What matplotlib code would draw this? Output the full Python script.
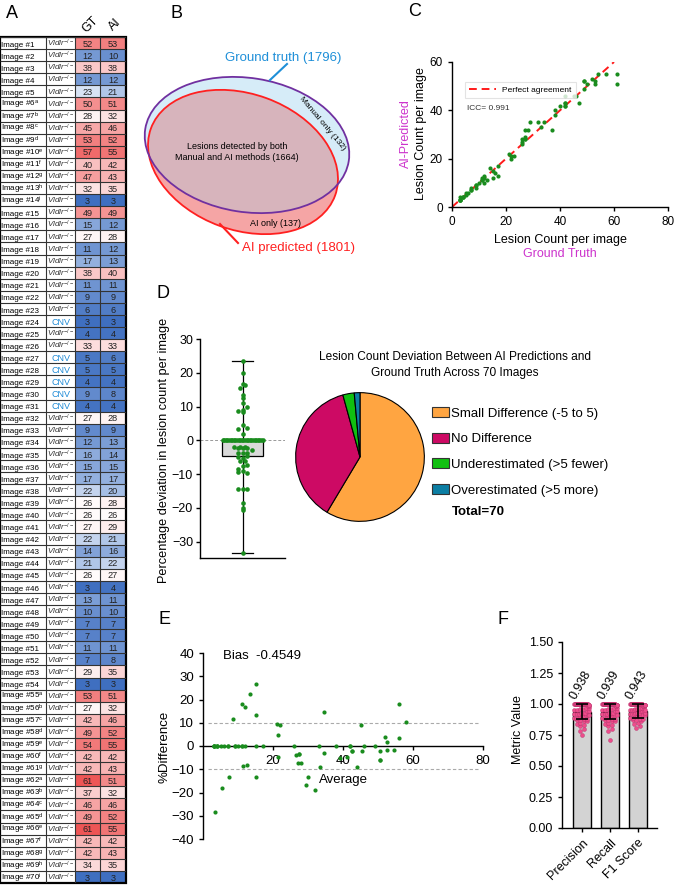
import matplotlib
matplotlib.use('Agg')
import matplotlib.pyplot as plt
from matplotlib.patches import Ellipse, Rectangle, Patch
from matplotlib.colors import LinearSegmentedColormap, TwoSlopeNorm
import numpy as np

plt.rcParams['font.family'] = ['Liberation Sans', 'DejaVu Sans']
plt.rcParams['mathtext.fontset'] = 'custom'
plt.rcParams['mathtext.rm'] = 'Liberation Sans'
plt.rcParams['mathtext.it'] = 'Liberation Sans:italic'
plt.rcParams['axes.linewidth'] = 1.0
plt.rcParams['xtick.major.width'] = 1.0
plt.rcParams['ytick.major.width'] = 1.0
plt.rcParams['xtick.major.size'] = 3
plt.rcParams['ytick.major.size'] = 3

W, H = 683, 890

# ---------------- data ----------------
image_ids = list(range(1, 71))
superscripts = {6: 'a', 7: 'b', 8: 'c', 9: 'd', 10: 'e', 11: 'f', 12: 'g', 13: 'h', 14: 'i',
                55: 'a', 56: 'b', 57: 'c', 58: 'd', 59: 'e', 60: 'f', 61: 'g',
                62: 'a', 63: 'b', 64: 'c', 65: 'd', 66: 'e', 67: 'f', 68: 'g', 69: 'h', 70: 'i'}
cnv_images = [24, 27, 28, 29, 30, 31]

gt = [52, 12, 38, 12, 23, 50, 28, 45, 53, 57, 40, 47, 32, 3, 49, 15, 27, 11, 17, 38,
      11, 9, 6, 3, 4, 33, 5, 5, 4, 9, 4, 27, 9, 12, 16, 15, 17, 22, 26, 26,
      27, 22, 14, 21, 26, 3, 13, 10, 7, 7, 11, 7, 29, 3, 53, 27, 42, 49, 54, 42,
      42, 61, 37, 46, 49, 61, 42, 42, 34, 3]
ai = [53, 10, 38, 12, 21, 51, 32, 46, 52, 55, 42, 43, 35, 3, 49, 12, 28, 12, 13, 40,
      11, 9, 6, 3, 4, 33, 6, 5, 4, 8, 4, 28, 9, 13, 14, 15, 17, 20, 28, 26,
      29, 21, 16, 22, 27, 4, 11, 10, 7, 7, 11, 8, 35, 3, 51, 32, 46, 52, 55, 42,
      43, 51, 32, 46, 52, 55, 42, 43, 35, 3]

venn_gt_total = 1796
venn_ai_total = 1801
venn_both = 1664
venn_manual_only = 132
venn_ai_only = 137

icc = 0.991
bias_text = 'Bias  -0.4549'

pie_labels = ['Small Difference (-5 to 5)', 'No Difference',
              'Underestimated (>5 fewer)', 'Overestimated (>5 more)']
pie_colors = ['#ffa541', '#cd0a64', '#10c010', '#0b7ea3']

metric_names = ['Precision', 'Recall', 'F1 Score']
metric_means = [0.938, 0.939, 0.943]
metric_sd = [0.062, 0.062, 0.057]
precision = [1.0, 1.0, 1.0, 1.0, 1.0, 1.0, 1.0, 1.0, 1.0, 1.0, 1.0, 1.0, 1.0, 1.0, 1.0,
             1.0, 1.0, 1.0, 1.0, 1.0, 1.0, 1.0, 1.0, 1.0, 1.0, 1.0, 1.0, 1.0, 1.0, 1.0,
             0.75, 0.78, 0.80, 0.82, 0.83, 0.84, 0.85, 0.86, 0.86, 0.87,
             0.87, 0.88, 0.88, 0.89, 0.89, 0.89, 0.90, 0.90, 0.90, 0.91,
             0.91, 0.91, 0.92, 0.92, 0.92, 0.93, 0.93, 0.93, 0.94, 0.94,
             0.95, 0.95, 0.96, 0.96, 0.97, 0.97, 0.98, 0.98, 0.99, 0.99]
recall = [1.0, 1.0, 1.0, 1.0, 1.0, 1.0, 1.0, 1.0, 1.0, 1.0, 1.0, 1.0, 1.0, 1.0, 1.0,
          1.0, 1.0, 1.0, 1.0, 1.0, 1.0, 1.0, 1.0, 1.0, 1.0, 1.0, 1.0, 1.0, 1.0, 1.0,
          0.71, 0.78, 0.80, 0.82, 0.83, 0.84, 0.85, 0.86, 0.86, 0.87,
          0.87, 0.88, 0.88, 0.89, 0.89, 0.90, 0.90, 0.90, 0.91, 0.91,
          0.91, 0.92, 0.92, 0.92, 0.93, 0.93, 0.93, 0.94, 0.94, 0.95,
          0.95, 0.96, 0.96, 0.97, 0.97, 0.98, 0.98, 0.99, 0.99, 0.99]
f1 = [1.0, 1.0, 1.0, 1.0, 1.0, 1.0, 1.0, 1.0, 1.0, 1.0, 1.0, 1.0, 1.0,
      1.0, 1.0, 1.0, 1.0, 1.0, 1.0, 1.0, 1.0, 1.0, 1.0, 1.0, 1.0, 1.0,
      0.81, 0.82, 0.84, 0.85, 0.86, 0.87, 0.87, 0.88, 0.88, 0.89, 0.89,
      0.90, 0.90, 0.90, 0.91, 0.91, 0.91, 0.92, 0.92, 0.92, 0.93, 0.93,
      0.93, 0.94, 0.94, 0.94, 0.95, 0.95, 0.95, 0.96, 0.96, 0.96, 0.97,
      0.97, 0.97, 0.98, 0.98, 0.98, 0.99, 0.99, 0.99, 0.99, 0.93, 0.95]

gt_a = np.array(gt, float)
ai_a = np.array(ai, float)
green = '#1a8c1e'


def fax(l, t, r, b):
    # axes from pixel box (left, top, right, bottom)
    return fig.add_axes([l / W, 1 - b / H, (r - l) / W, (b - t) / H])


def ptext(x, y, s, **kw):
    fig.text(x / W, 1 - y / H, s, **kw)


def swarm(vals, ypx, dot, maxw):
    vals = np.asarray(vals, float)
    offs = np.zeros(len(vals))
    bins = np.round(vals * ypx / dot).astype(int)
    for b in np.unique(bins):
        idx = np.where(bins == b)[0]
        n = len(idx)
        if n > 1:
            step = min(dot, maxw / (n - 1))
            offs[idx] = (np.arange(n) - (n - 1) / 2) * step
    return offs


fig = plt.figure(figsize=(W / 100, H / 100), dpi=100)

# ---------------- overlay for panel B ----------------
ov = fig.add_axes([0, 0, 1, 1])
ov.set_xlim(0, W)
ov.set_ylim(H, 0)
ov.axis('off')

gt_c, gt_w, gt_h, gt_ang = (247, 145), 206, 134, 9
ai_c, ai_w, ai_h, ai_ang = (243, 162), 196, 136, 20
gt_fill = Ellipse(gt_c, gt_w, gt_h, angle=gt_ang, fc='#d6ecf8', ec='none')
ov.add_patch(gt_fill)
ov.add_patch(Ellipse(ai_c, ai_w, ai_h, angle=ai_ang, fc='#f5a5a5', ec='none'))
both = Ellipse(ai_c, ai_w, ai_h, angle=ai_ang, fc='#d7b4bc', ec='none')
ov.add_patch(both)
both.set_clip_path(gt_fill)
ov.add_patch(Ellipse(ai_c, ai_w, ai_h, angle=ai_ang, fc='none', ec='#ff2020', lw=1.3))
ov.add_patch(Ellipse(gt_c, gt_w, gt_h, angle=gt_ang, fc='none', ec='#7030a0', lw=1.3))
ov.plot([287, 270], [64, 80], color='#1e8fd8', lw=1.5)
ov.plot([220, 238], [224, 243], color='#ff2020', lw=1.5)
ov.text(283, 58, 'Ground truth (%d)' % venn_gt_total, color='#1e8fd8', fontsize=9.5,
        ha='center', va='center')
ov.text(298, 248, 'AI predicted (%d)' % venn_ai_total, color='#ff2020', fontsize=9.5,
        ha='center', va='center')
ov.text(322, 124, 'Manual only (%d)' % venn_manual_only, fontsize=6, rotation=-50,
        ha='center', va='center')
ov.text(276, 224, 'AI only (%d)' % venn_ai_only, fontsize=6.5, ha='center', va='center')
ov.text(237, 152, 'Lesions detected by both\nManual and AI methods (%d)' % venn_both,
        fontsize=6.5, ha='center', va='center', linespacing=1.3)

# ---------------- panel A: table ----------------
cmap = LinearSegmentedColormap.from_list('gtai', [(0, '#3f6fc0'), (0.4, '#a9c1e6'),
                                                  (0.5, '#ffffff'), (0.75, '#f8b4b4'),
                                                  (1, '#ee5555')])
norm = TwoSlopeNorm(vmin=3, vcenter=25, vmax=61)
tab = fax(0, 37, 126, 883)
tab.set_xlim(0, 126)
tab.set_ylim(len(image_ids), 0)
tab.axis('off')
cols = [0, 46, 75, 100, 126]
for i, img in enumerate(image_ids):
    lab = 'Image #%d' % img
    if img in superscripts:
        lab += r'$^{\mathrm{%s}}$' % superscripts[img]
    tab.text(1.2, i + 0.8, lab, fontsize=5.8, ha='left', va='baseline')
    if img in cnv_images:
        tab.text(60.5, i + 0.8, 'CNV', fontsize=6.5, color='#1f8bd6', ha='center',
                 va='baseline')
    else:
        tab.text(60.5, i + 0.8, r'$\mathit{Vldlr}^{-/-}$', fontsize=5.8, color='#333333',
                 ha='center', va='baseline')
    for c, vals in ((2, gt), (3, ai)):
        tab.add_patch(Rectangle((cols[c], i), cols[c + 1] - cols[c], 1,
                                fc=cmap(norm(vals[i])), ec='none'))
        tab.text((cols[c] + cols[c + 1]) / 2, i + 0.8, str(vals[i]), fontsize=6.6,
                 ha='center', va='baseline', color='#222222')
tab.hlines(np.arange(len(image_ids) + 1), 0, 126, color='#333333', lw=0.8)
tab.vlines(cols[1:-1], 0, len(image_ids), color='#333333', lw=0.8)
tab.add_patch(Rectangle((0, 0), 126, len(image_ids), fc='none', ec='black', lw=1.6,
                        clip_on=False))
ptext(90, 25, 'GT', rotation=45, fontsize=9, ha='center', va='center')
ptext(115, 25, 'AI', rotation=45, fontsize=9, ha='center', va='center')

# ---------------- panel C: scatter ----------------
axc = fax(452, 62, 668, 207)
axc.plot([0, 60], [0, 60], color='#ff1a1a', ls=(0, (4, 2.5)), lw=1.4,
         label='Perfect agreement', zorder=1)
axc.scatter(gt, ai, s=9, color=green, zorder=2, linewidths=0)
axc.set_xlim(0, 80)
axc.set_ylim(0, 60)
axc.set_xticks([0, 20, 40, 60, 80])
axc.set_yticks([0, 20, 40, 60])
axc.tick_params(labelsize=8.5)
for s in ['top', 'right']:
    axc.spines[s].set_visible(False)
leg = axc.legend(loc='upper left', bbox_to_anchor=(0.04, 0.89), fontsize=6,
                 handlelength=3.2, borderpad=0.5, fancybox=False)
leg.get_frame().set_edgecolor('#dddddd')
leg.get_frame().set_linewidth(0.8)
axc.text(0.07, 0.676, 'ICC= %.3f' % icc, transform=axc.transAxes, fontsize=6,
         va='center', color='#333333')
ptext(560, 240, 'Lesion Count per image', fontsize=9, ha='center', va='center')
ptext(560, 254, 'Ground Truth', fontsize=9, color='#cc33cc', ha='center', va='center')
ptext(421, 134, 'Lesion Count per image', fontsize=9, rotation=90, ha='center', va='center')
ptext(406, 134, 'AI-Predicted', fontsize=9, color='#cc33cc', rotation=90, ha='center',
      va='center')

# ---------------- panel D: box + swarm ----------------
pdev = (gt_a - ai_a) / gt_a * 100
axd = fax(200, 339, 285, 558)
axd.set_xlim(-1, 1)
axd.set_ylim(-34.8, 30)
axd.axhline(0, color='#999999', ls=(0, (3, 2)), lw=0.7, zorder=0)
axd.boxplot([pdev], positions=[0], widths=0.96, whis=(0, 100), patch_artist=True,
            showfliers=False, capwidths=0.5,
            boxprops=dict(facecolor='#d9d9d9', edgecolor='black', lw=0.9),
            medianprops=dict(color='black', lw=0.9),
            whiskerprops=dict(color='black', lw=0.9),
            capprops=dict(color='black', lw=0.9), zorder=1)
offs = swarm(pdev, 219 / 64.8, 4.5, 40)
axd.scatter(offs / 42.5, pdev, s=11, color=green, linewidths=0, zorder=3)
axd.set_xticks([])
axd.set_yticks([30, 20, 10, 0, -10, -20, -30])
axd.tick_params(labelsize=9, pad=2)
for s in ['top', 'right']:
    axd.spines[s].set_visible(False)
ptext(164, 450, 'Percentage deviation in lesion count per image', fontsize=9.2,
      rotation=90, ha='center', va='center')

# ---------------- panel D: pie ----------------
diff = ai_a - gt_a
pie_counts = [int(np.sum((diff != 0) & (np.abs(diff) <= 5))), int(np.sum(diff == 0)),
              int(np.sum(diff < -5)), int(np.sum(diff > 5))]
axp = fax(295, 392, 425, 522)
wedges, _ = axp.pie(pie_counts, colors=pie_colors, startangle=90, counterclock=False,
                    wedgeprops=dict(edgecolor='black', linewidth=0.8))
axp.set_aspect('equal')
axp.set_xlim(-1.01, 1.01)
axp.set_ylim(-1.01, 1.01)
ptext(455, 365, 'Lesion Count Deviation Between AI Predictions and\nGround Truth Across %d Images'
      % len(image_ids), fontsize=8.6, ha='center', va='center', linespacing=1.45)
handles = [Patch(facecolor=c, edgecolor='#333333', lw=0.8) for c in pie_colors]
fig.legend(handles, pie_labels, loc='upper left', bbox_to_anchor=(427 / W, 1 - 402 / H),
           frameon=False, fontsize=9.5, handlelength=1.3, handleheight=0.8,
           handletextpad=0.15, labelspacing=0.98, borderaxespad=0)
ptext(478, 512, 'Total=%d' % sum(pie_counts), fontsize=9.5, fontweight='bold',
      ha='center', va='center')

# ---------------- panel E: Bland-Altman ----------------
avg = (gt_a + ai_a) / 2
pdiff = (gt_a - ai_a) / avg * 100
axe = fax(203, 653, 483, 839)
axe.hlines([10, -10], 1.5, 79, colors='#aaaaaa', linestyles=(0, (3, 2)), lw=0.8, zorder=0)
axe.scatter(avg, pdiff, s=9, color=green, linewidths=0, zorder=3)
axe.set_xlim(0, 80)
axe.set_ylim(-40, 40)
axe.spines['bottom'].set_position(('data', 0))
for s in ['top', 'right']:
    axe.spines[s].set_visible(False)
axe.set_xticks([20, 40, 60, 80])
axe.set_yticks(np.arange(-40, 41, 10))
axe.tick_params(labelsize=9.5)
axe.text(5.7, 38.7, bias_text, fontsize=9.5, va='center')
axe.text(40, -14.6, 'Average', fontsize=9.5, ha='center', va='center')
ptext(165, 747, '%Difference', fontsize=9.5, rotation=90, ha='center', va='center')

# ---------------- panel F: metrics ----------------
axf = fax(562, 642, 657, 828)
xs = np.arange(len(metric_names))
axf.bar(xs, metric_means, width=0.64, color='#d3d3d3', edgecolor='black', lw=1, zorder=1)
for i, vals in enumerate([precision, recall, f1]):
    o = swarm(vals, 124, 3.5, 15)
    axf.scatter(i + o / 28, vals, s=8, color='#ee4d8c', edgecolors='#b8306a',
                linewidths=0.3, zorder=2)
    axf.text(i - 0.15, 1.02, '%.3f' % metric_means[i], rotation=60, ha='left', va='bottom',
             rotation_mode='anchor', fontsize=9)
axf.errorbar(xs, metric_means, yerr=metric_sd, fmt='none', ecolor='black', elinewidth=1.2,
             capsize=4, capthick=1.2, zorder=3)
axf.set_xlim(-0.714, 2.68)
axf.set_ylim(0, 1.5)
axf.set_yticks(np.arange(0, 1.51, 0.25))
axf.set_yticklabels(['%.2f' % v for v in np.arange(0, 1.51, 0.25)])
axf.set_xticks(xs)
axf.set_xticklabels(metric_names, rotation=45, ha='right', rotation_mode='anchor')
axf.tick_params(labelsize=9)
for s in ['top', 'right']:
    axf.spines[s].set_visible(False)
ptext(518, 730, 'Metric Value', fontsize=9, rotation=90, ha='center', va='center')

# ---------------- panel letters ----------------
for letter, x, y in [('A', 12, 13), ('B', 176, 14), ('C', 415, 12), ('D', 163, 293),
                     ('E', 164, 620), ('F', 503, 620)]:
    ptext(x, y, letter, fontsize=13, ha='center', va='center')

fig.savefig('out.png', dpi=100)
